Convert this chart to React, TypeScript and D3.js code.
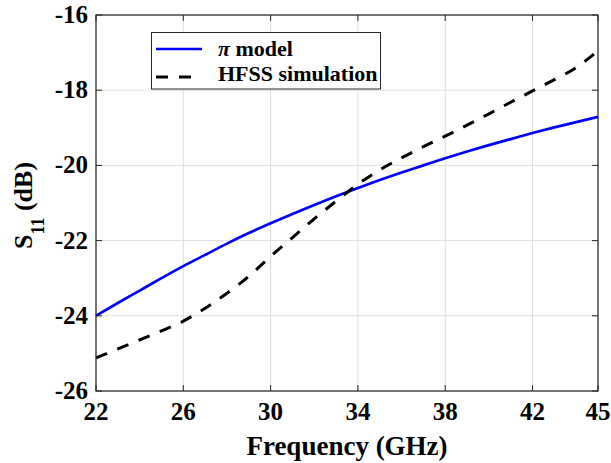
import React from "react";
import * as d3 from "d3";

const freqGHz = [22, 23, 24, 25, 26, 27, 28, 29, 30, 31, 32, 33, 34, 35, 36, 37, 38, 39, 40, 41, 42, 43, 44, 45];
const piModel = [-24.0, -23.66, -23.33, -23.0, -22.68, -22.38, -22.08, -21.8, -21.54, -21.29, -21.05, -20.82, -20.6, -20.39, -20.19, -20.0, -19.81, -19.63, -19.46, -19.3, -19.14, -18.99, -18.85, -18.71];
const hfss = [-25.12, -24.88, -24.64, -24.4, -24.14, -23.8, -23.4, -22.95, -22.42, -21.92, -21.42, -20.95, -20.5, -20.12, -19.8, -19.5, -19.22, -18.93, -18.63, -18.32, -18.02, -17.72, -17.4, -16.95];
const xTicks = [22, 26, 30, 34, 38, 42, 45];
const yTicks = [-26, -24, -22, -20, -18, -16];
const legendLabels = ["model", "HFSS simulation"];

const W = 611;
const H = 463;
const m = { left: 96, right: 598, top: 15, bottom: 391 };
const textStyle: React.CSSProperties = { fontFamily: "Liberation Serif" };
const axisColor = "#262626";
const dash = "12,11";

export default function App() {
  const x = d3.scaleLinear().domain([22, 45]).range([m.left, m.right]);
  const y = d3.scaleLinear().domain([-26, -16]).range([m.bottom, m.top]);
  const line = d3
    .line<number>()
    .x((_, i) => x(freqGHz[i]))
    .y((d) => y(d))
    .curve(d3.curveMonotoneX);
  const tickLen = 6;

  return (
    <svg width={W} height={H} style={{ position: "absolute", left: 0, top: 0, background: "#fff" }}>
      <rect x={0} y={0} width={W} height={H} fill="#fff" />
      {/* grid */}
      {xTicks.map((t) => (
        <line key={"gx" + t} x1={x(t)} x2={x(t)} y1={m.top} y2={m.bottom} stroke="#dedede" strokeWidth={1} />
      ))}
      {yTicks.map((t) => (
        <line key={"gy" + t} x1={m.left} x2={m.right} y1={y(t)} y2={y(t)} stroke="#dedede" strokeWidth={1} />
      ))}
      {/* series */}
      <path d={line(piModel) || ""} fill="none" stroke="#0000ff" strokeWidth={2.7} />
      <path d={line(hfss) || ""} fill="none" stroke="#000" strokeWidth={3} strokeDasharray={dash} />
      {/* box and ticks */}
      <rect x={m.left} y={m.top} width={m.right - m.left} height={m.bottom - m.top} fill="none" stroke={axisColor} strokeWidth={1.2} />
      {xTicks.map((t) => (
        <g key={"tx" + t}>
          <line x1={x(t)} x2={x(t)} y1={m.bottom} y2={m.bottom - tickLen} stroke={axisColor} />
          <line x1={x(t)} x2={x(t)} y1={m.top} y2={m.top + tickLen} stroke={axisColor} />
          <text x={x(t)} y={420} textAnchor="middle" fontSize={25} fontWeight="bold" style={textStyle} fill="#000">
            {t}
          </text>
        </g>
      ))}
      {yTicks.map((t) => (
        <g key={"ty" + t}>
          <line x1={m.left} x2={m.left + tickLen} y1={y(t)} y2={y(t)} stroke={axisColor} />
          <line x1={m.right} x2={m.right - tickLen} y1={y(t)} y2={y(t)} stroke={axisColor} />
          <text x={88} y={y(t) + 8} textAnchor="end" fontSize={25} fontWeight="bold" style={textStyle} fill="#000">
            {t}
          </text>
        </g>
      ))}
      {/* axis labels */}
      <text x={347} y={455} textAnchor="middle" fontSize={27} fontWeight="bold" style={textStyle} fill="#000">
        Frequency (GHz)
      </text>
      <text
        transform="translate(32,205.5) rotate(-90)"
        textAnchor="middle"
        fontSize={26}
        fontWeight="bold"
        style={textStyle}
        fill="#000"
      >
        S<tspan fontSize={18} dy={12}>11</tspan>
        <tspan dy={-12}> (dB)</tspan>
      </text>
      {/* legend */}
      <g>
        <rect x={151.5} y={32.5} width={229} height={56.5} fill="#fff" stroke={axisColor} strokeWidth={1} />
        <line x1={156} x2={202} y1={49} y2={49} stroke="#0000ff" strokeWidth={2.7} />
        <line x1={156} x2={202} y1={77} y2={77} stroke="#000" strokeWidth={3} strokeDasharray={dash} />
        <text x={218} y={56} fontSize={22} fontWeight="bold" style={textStyle} fill="#000">
          <tspan fontStyle="italic">π</tspan> {legendLabels[0]}
        </text>
        <text x={218} y={81} fontSize={22} fontWeight="bold" style={textStyle} fill="#000">
          {legendLabels[1]}
        </text>
      </g>
    </svg>
  );
}
